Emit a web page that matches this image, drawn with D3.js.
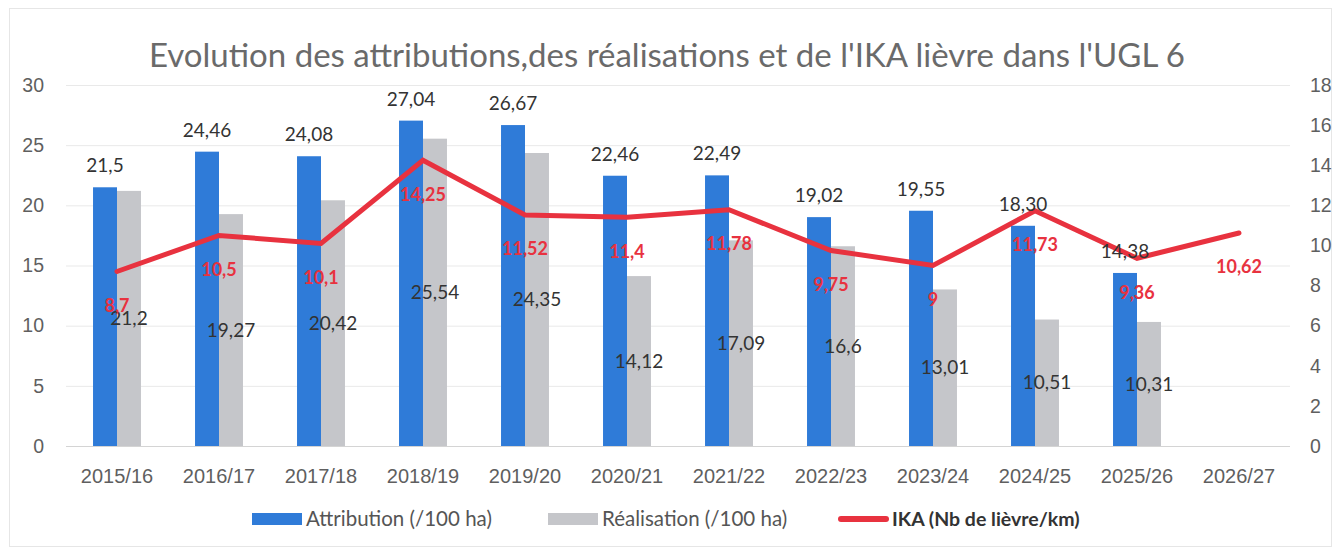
<!DOCTYPE html>
<html>
<head>
<meta charset="utf-8">
<script src="https://cdn.jsdelivr.net/npm/d3@7/dist/d3.min.js"></script>
<style>
  html, body { margin: 0; padding: 0; background: #fff; }
  svg { display: block; font-family: Lato, "Open Sans", sans-serif; }
</style>
</head>
<body>
<svg id="chart"></svg>
<script>
// Data
const seasons = ['2015/16', '2016/17', '2017/18', '2018/19', '2019/20', '2020/21',
  '2021/22', '2022/23', '2023/24', '2024/25', '2025/26', '2026/27'];
const attribution = [21.5, 24.46, 24.08, 27.04, 26.67, 22.46, 22.49, 19.02, 19.55, 18.30, 14.38, null];
const realisation = [21.2, 19.27, 20.42, 25.54, 24.35, 14.12, 17.09, 16.6, 13.01, 10.51, 10.31, null];
const ika = [8.7, 10.5, 10.1, 14.25, 11.52, 11.4, 11.78, 9.75, 9, 11.73, 9.36, 10.62];
const attributionLabels = ['21,5', '24,46', '24,08', '27,04', '26,67', '22,46', '22,49', '19,02', '19,55', '18,30', '14,38'];
const realisationLabels = ['21,2', '19,27', '20,42', '25,54', '24,35', '14,12', '17,09', '16,6', '13,01', '10,51', '10,31'];
const ikaLabels = ['8,7', '10,5', '10,1', '14,25', '11,52', '11,4', '11,78', '9,75', '9', '11,73', '9,36', '10,62'];
const leftTicks = [0, 5, 10, 15, 20, 25, 30];
const rightTicks = [0, 2, 4, 6, 8, 10, 12, 14, 16, 18];
const seriesNames = ['Attribution (/100 ha)', 'Réalisation (/100 ha)', 'IKA (Nb de lièvre/km)'];
const title = "Evolution des attributions,des réalisations et de l'IKA lièvre dans l'UGL 6";

const width = 1342;
const height = 553;
const plot = {left: 66, right: 1290, top: 85, bottom: 446};

const blue = '#2f7bd8';
const grey = '#c5c6ca';
const red = '#e8323f';
const axisText = '#5f5f5f';

const svg = d3.select('#chart')
  .attr('width', width)
  .attr('height', height);

// faint scan frame
svg.append('rect')
  .attr('x', 9.5).attr('y', 8.5)
  .attr('width', 1322).attr('height', 538)
  .attr('fill', '#fff')
  .attr('stroke', '#e6e6e6');

const x = d3.scaleBand()
  .domain(seasons)
  .range([plot.left, plot.right])
  .paddingInner(0.53)
  .paddingOuter(0.265);

const xSub = d3.scaleBand()
  .domain(['attribution', 'realisation'])
  .range([0, x.bandwidth()]);

const yLeft = d3.scaleLinear().domain([0, 30]).range([plot.bottom, plot.top]);
const yRight = d3.scaleLinear().domain([0, 18]).range([plot.bottom, plot.top]);

// gridlines
svg.append('g')
  .selectAll('line')
  .data(leftTicks)
  .join('line')
  .attr('x1', plot.left)
  .attr('x2', plot.right)
  .attr('y1', d => yLeft(d) + 0.5)
  .attr('y2', d => yLeft(d) + 0.5)
  .attr('stroke', d => d === 0 ? '#d4d4d4' : '#e9e9e9')
  .attr('stroke-width', 1);

// left axis
const leftAxis = svg.append('g')
  .attr('transform', `translate(${plot.left - 22}, 0)`)
  .call(d3.axisLeft(yLeft).tickValues(leftTicks).tickSize(0).tickPadding(0));
leftAxis.select('.domain').remove();
leftAxis.selectAll('text')
  .attr('fill', axisText)
  .style('font-size', '19.5px');

// right axis
const rightAxis = svg.append('g')
  .attr('transform', `translate(${plot.right + 20}, 0)`)
  .call(d3.axisRight(yRight).tickValues(rightTicks).tickSize(0).tickPadding(0));
rightAxis.select('.domain').remove();
rightAxis.selectAll('text')
  .attr('fill', axisText)
  .style('font-size', '19.5px');

// category axis
const bottomAxis = svg.append('g')
  .attr('transform', `translate(0, ${plot.bottom})`)
  .call(d3.axisBottom(x).tickSize(0).tickPadding(23));
bottomAxis.select('.domain').remove();
bottomAxis.selectAll('text')
  .attr('fill', axisText)
  .style('font-size', '20px');

// bars
const rows = seasons.map((s, i) => ({
  season: s,
  attribution: attribution[i],
  realisation: realisation[i]
})).filter(d => d.attribution != null);

svg.append('g')
  .selectAll('rect')
  .data(rows)
  .join('rect')
  .attr('x', d => x(d.season) + xSub('attribution'))
  .attr('y', d => yLeft(d.attribution))
  .attr('width', xSub.bandwidth())
  .attr('height', d => yLeft(0) - yLeft(d.attribution))
  .attr('fill', blue);

svg.append('g')
  .selectAll('rect')
  .data(rows)
  .join('rect')
  .attr('x', d => x(d.season) + xSub('realisation'))
  .attr('y', d => yLeft(d.realisation))
  .attr('width', xSub.bandwidth())
  .attr('height', d => yLeft(0) - yLeft(d.realisation))
  .attr('fill', grey);

// IKA line
const line = d3.line()
  .x((d, i) => x(seasons[i]) + x.bandwidth() / 2)
  .y(d => yRight(d));

svg.append('path')
  .datum(ika)
  .attr('d', line)
  .attr('fill', 'none')
  .attr('stroke', red)
  .attr('stroke-width', 5)
  .attr('stroke-linejoin', 'miter')
  .attr('stroke-linecap', 'round');

// data labels
const labelFont = '19px';

svg.append('g')
  .selectAll('text')
  .data(rows)
  .join('text')
  .attr('x', d => x(d.season) + xSub('attribution') + xSub.bandwidth() / 2)
  .attr('y', d => yLeft(d.attribution) - 15)
  .attr('text-anchor', 'middle')
  .attr('fill', '#333')
  .style('font-size', labelFont)
  .text((d, i) => attributionLabels[i]);

svg.append('g')
  .selectAll('text')
  .data(rows)
  .join('text')
  .attr('x', d => x(d.season) + xSub('realisation') + xSub.bandwidth() / 2)
  .attr('y', d => (yLeft(d.realisation) + yLeft(0)) / 2)
  .attr('dy', '0.35em')
  .attr('text-anchor', 'middle')
  .attr('fill', '#333')
  .style('font-size', labelFont)
  .text((d, i) => realisationLabels[i]);

svg.append('g')
  .selectAll('text')
  .data(ika)
  .join('text')
  .attr('x', (d, i) => x(seasons[i]) + x.bandwidth() / 2)
  .attr('y', d => yRight(d) + 34)
  .attr('dy', '0.35em')
  .attr('text-anchor', 'middle')
  .attr('fill', red)
  .style('font-size', '18px')
  .style('font-weight', 'bold')
  .text((d, i) => ikaLabels[i]);

// title
svg.append('text')
  .attr('x', 667)
  .attr('y', 67)
  .attr('text-anchor', 'middle')
  .attr('fill', '#6a6a6a')
  .style('font-size', '33px')
  .text(title);

// legend
const legend = svg.append('g').attr('transform', 'translate(0, 519)');
const legendItems = [
  {name: seriesNames[0], color: blue, x: 252, type: 'rect'},
  {name: seriesNames[1], color: grey, x: 548, type: 'rect'},
  {name: seriesNames[2], color: red, x: 838, type: 'line'}
];

legendItems.forEach(item => {
  if (item.type === 'rect') {
    legend.append('rect')
      .attr('x', item.x).attr('y', -6)
      .attr('width', 50).attr('height', 12)
      .attr('fill', item.color);
  } else {
    legend.append('line')
      .attr('x1', item.x + 3).attr('x2', item.x + 48)
      .attr('stroke', item.color)
      .attr('stroke-width', 6)
      .attr('stroke-linecap', 'round');
  }
  legend.append('text')
    .attr('x', item.x + 54)
    .attr('dy', '0.35em')
    .attr('fill', item.type === 'line' ? '#333' : '#555')
    .style('font-size', item.type === 'line' ? '19.5px' : '20.5px')
    .style('font-weight', item.type === 'line' ? 'bold' : 'normal')
    .text(item.name);
});
</script>
</body>
</html>
